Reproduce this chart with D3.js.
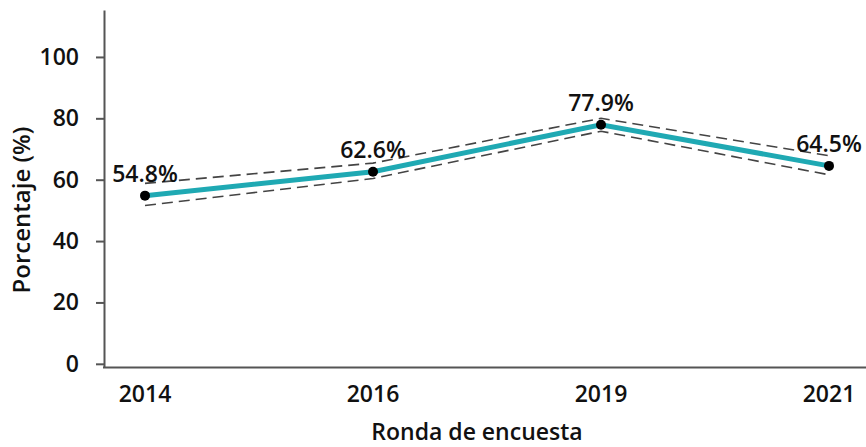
<!DOCTYPE html>
<html>
<head>
<meta charset="utf-8">
<script src="https://cdn.jsdelivr.net/npm/d3@7"></script>
<style>
	body { margin: 0; background: #fff; }
	text { font-family: "Open Sans", "Noto Sans", sans-serif; font-weight: 600; fill: #111; }
</style>
</head>
<body>
<div id="chart"></div>
<script>
// survey rounds and estimates
const years = ["2014", "2016", "2019", "2021"];
const values = [54.8, 62.6, 77.9, 64.5];
const lower = [51.6, 60.4, 75.8, 61.6];
const upper = [58.8, 65.4, 80.0, 67.8];
const yTicks = [0, 20, 40, 60, 80, 100];

const width = 866;
const height = 447;

const svg = d3.select("#chart")
	.append("svg")
		.attr("width", width)
		.attr("height", height);

const axisX = 104;
const axisBottom = 367.5;

const x = d3.scalePoint()
	.domain(years)
	.range([145, 829]);

const y = d3.scaleLinear()
	.domain([-1.2, 115.3])
	.range([axisBottom, 10]);

const data = years.map((yr, i) => ({
	year: yr,
	val: values[i],
	lo: lower[i],
	hi: upper[i]
}));

// y axis
const yAxis = svg.append("g")
	.attr("transform", `translate(${axisX},0)`)
	.call(d3.axisLeft(y)
		.tickValues(yTicks)
		.tickSize(8)
		.tickSizeOuter(0)
		.tickPadding(17));
yAxis.attr("font-family", null).attr("font-size", null);
yAxis.select(".domain").attr("stroke", "#555").attr("stroke-width", 2);
yAxis.selectAll(".tick line").attr("stroke", "#555").attr("stroke-width", 2);
yAxis.selectAll(".tick text")
	.attr("font-size", 23)
	.style("fill", "#111");

// x axis line, labels only
svg.append("line")
	.attr("x1", axisX - 1)
	.attr("x2", width)
	.attr("y1", axisBottom)
	.attr("y2", axisBottom)
	.attr("stroke", "#555")
	.attr("stroke-width", 2);

svg.append("g")
	.selectAll("text")
	.data(years)
	.join("text")
		.attr("x", (d) => x(d))
		.attr("y", 402)
		.attr("text-anchor", "middle")
		.attr("font-size", 23)
		.text((d) => d);

// titles
svg.append("text")
	.attr("x", (axisX + width) / 2 - 8)
	.attr("y", 440)
	.attr("text-anchor", "middle")
	.attr("font-size", 23)
	.text("Ronda de encuesta");

svg.append("text")
	.attr("transform", "translate(30,210) rotate(-90)")
	.attr("text-anchor", "middle")
	.attr("font-size", 24)
	.text("Porcentaje (%)");

// confidence bounds
const dashed = (key) => d3.line()
	.x((d) => x(d.year))
	.y((d) => y(d[key]));

["lo", "hi"].forEach((k) => {
	svg.append("path")
		.datum(data)
		.attr("fill", "none")
		.attr("stroke", "#444")
		.attr("stroke-width", 1.6)
		.attr("stroke-dasharray", "11,6")
		.attr("d", dashed(k));
});

// main line
svg.append("path")
	.datum(data)
	.attr("fill", "none")
	.attr("stroke", "#1fa9b3")
	.attr("stroke-width", 5)
	.attr("d", dashed("val"));

svg.append("g")
	.selectAll("circle")
	.data(data)
	.join("circle")
		.attr("cx", (d) => x(d.year))
		.attr("cy", (d) => y(d.val))
		.attr("r", 5)
		.attr("fill", "#000");

svg.append("g")
	.selectAll("text")
	.data(data)
	.join("text")
		.attr("x", (d) => x(d.year))
		.attr("y", (d) => y(d.val) - 14)
		.attr("text-anchor", "middle")
		.attr("font-size", 23)
		.text((d) => d.val.toFixed(1) + "%");
</script>
</body>
</html>
